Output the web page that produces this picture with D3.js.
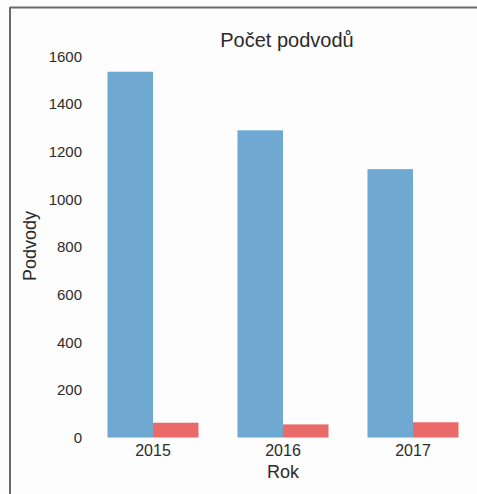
<!DOCTYPE html>
<html><head><meta charset="utf-8">
<script src="https://cdn.jsdelivr.net/npm/d3@7"></script>
<style>body{margin:0;background:#fff}svg{display:block}text{font-family:"Liberation Sans",Arial,sans-serif;fill:#2b2b2b}</style>
</head><body>
<script>
const years = ["2015", "2016", "2017"];
const seriesA = [1536, 1290, 1127];
const seriesB = [62, 55, 64];
const yTicks = [0, 200, 400, 600, 800, 1000, 1200, 1400, 1600];
const title = "Počet podvodů";
const xLabel = "Rok";
const yLabel = "Podvody";

const W = 477, H = 494;
const svg = d3.select("body").append("svg").attr("width", W).attr("height", H);
svg.append("rect").attr("width", W).attr("height", H).attr("fill", "#fdfdfd");
// frame lines (top & left)
svg.append("line").attr("x1", 10).attr("x2", W).attr("y1", 7.5).attr("y2", 7.5).attr("stroke", "#6a6a6a").attr("stroke-width", 2);
svg.append("line").attr("x1", 10).attr("x2", 10).attr("y1", 7).attr("y2", H).attr("stroke", "#6a6a6a").attr("stroke-width", 2);

const x = d3.scaleBand().domain(years).range([88, 478]).paddingInner(0.3).paddingOuter(0.15);
const sub = d3.scaleBand().domain(["a", "b"]).range([0, x.bandwidth()]);
const y = d3.scaleLinear().domain([0, 1600]).range([437.5, 56.5]);

const data = years.map((yr, i) => ({yr, a: seriesA[i], b: seriesB[i]}));
const g = svg.append("g");
const grp = g.selectAll("g.grp").data(data).join("g").attr("class", "grp")
  .attr("transform", d => `translate(${x(d.yr)},0)`);
grp.append("rect").attr("x", sub("a")).attr("width", sub.bandwidth())
  .attr("y", d => y(d.a)).attr("height", d => y(0) - y(d.a)).attr("fill", "#6fa8d1");
grp.append("rect").attr("x", sub("b")).attr("width", sub.bandwidth())
  .attr("y", d => y(d.b)).attr("height", d => y(0) - y(d.b)).attr("fill", "#ea6a6a");

const yAxis = svg.append("g").attr("transform", "translate(82,0)")
  .call(d3.axisLeft(y).tickValues(yTicks).tickFormat(d3.format("d")).tickSize(0).tickPadding(0));
yAxis.select(".domain").remove();
yAxis.selectAll("text").attr("font-size", 15).attr("fill", "#2b2b2b");

const xAxis = svg.append("g").attr("transform", "translate(0,445)")
  .call(d3.axisBottom(x).tickSize(0).tickPadding(0));
xAxis.select(".domain").remove();
xAxis.selectAll("text").attr("font-size", 16).attr("fill", "#2b2b2b");

svg.append("text").attr("x", 287).attr("y", 47).attr("text-anchor", "middle").attr("font-size", 20).text(title);
svg.append("text").attr("x", 283).attr("y", 478).attr("text-anchor", "middle").attr("font-size", 18).text(xLabel);
svg.append("text").attr("transform", "translate(36,246) rotate(-90)").attr("text-anchor", "middle").attr("font-size", 18).text(yLabel);
</script>
</body></html>
